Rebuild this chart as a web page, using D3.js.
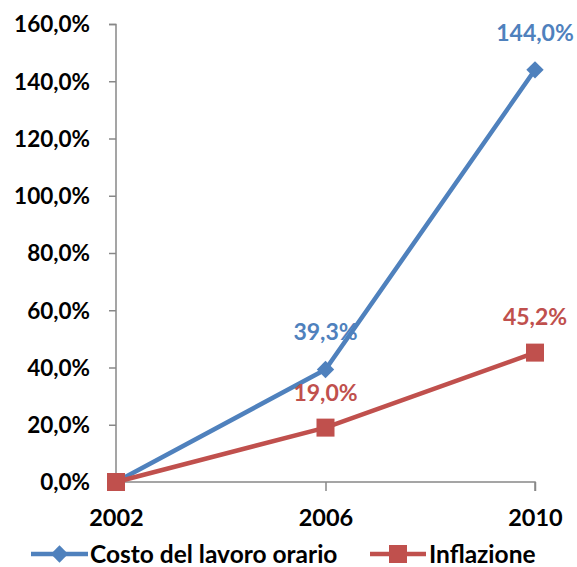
<!DOCTYPE html>
<html><head><meta charset="utf-8">
<script src="https://cdn.jsdelivr.net/npm/d3@7"></script>
<style>body{margin:0;background:#fff}svg{display:block}text{font-family:Lato,"Open Sans",sans-serif;font-weight:bold}</style>
</head><body><svg id="c" width="577" height="567"></svg>
<script>
const categories = ["2002", "2006", "2010"];
const costoLavoro = [0, 39.3, 144.0];
const inflazione = [0, 19.0, 45.2];
const yTicks = [0, 20, 40, 60, 80, 100, 120, 140, 160];
const seriesNames = ["Costo del lavoro orario", "Inflazione"];
const colors = ["#4F81BD", "#C0504D"];

const svg = d3.select("#c");
const x = d3.scalePoint().domain(categories).range([116, 535]);
const y = d3.scaleLinear().domain([0, 160]).range([482, 24]);
const fmt = v => v.toFixed(1).replace(".", ",") + "%";

// y axis
const yAx = svg.append("g").attr("transform", "translate(116,0)")
  .call(d3.axisLeft(y).tickValues(yTicks).tickFormat(fmt).tickSize(7).tickPadding(19));
yAx.select(".domain").attr("stroke", "#888").attr("stroke-width", 1.5).attr("d", "M-7,24.5H0V482");
yAx.selectAll(".tick line").attr("stroke", "#888").attr("stroke-width", 1.5);
yAx.selectAll("text").attr("fill", "#000").style("font-size", "22.5px").attr("dy", "0.35em");

// x axis
const xAx = svg.append("g").attr("transform", "translate(0,482)")
  .call(d3.axisBottom(x).tickSize(9).tickPadding(0));
xAx.select(".domain").attr("stroke", "#888").attr("stroke-width", 1.5).attr("d", "M116,0H535V9");
xAx.selectAll(".tick line").attr("stroke", "#888").attr("stroke-width", 1.5);
xAx.selectAll(".tick").filter((d,i)=>i===0).select("line").remove();
xAx.selectAll("text").attr("fill", "#000").style("font-size", "23.5px").attr("y", 36).attr("dy", "0.35em");

const line = d3.line().x((d,i)=>x(categories[i])).y(d=>y(d));
const data = [costoLavoro, inflazione];

data.forEach((s, k) => {
  svg.append("path").datum(s).attr("d", line).attr("fill", "none")
    .attr("stroke", colors[k]).attr("stroke-width", 4.5).attr("stroke-linejoin", "round");
});
svg.selectAll(".dm").data(costoLavoro).join("path")
  .attr("d", d3.symbol().type(d3.symbolSquare).size(150))
  .attr("transform", (d,i)=>`translate(${x(categories[i])},${y(d)}) rotate(45)`)
  .attr("fill", colors[0]);
svg.selectAll(".sq").data(inflazione).join("rect")
  .attr("x", (d,i)=>x(categories[i]) - 9).attr("y", d=>y(d) - 9)
  .attr("width", 18).attr("height", 18).attr("fill", colors[1]);

// labels
const labels = [
  {s:0, i:1, dy:-37.5}, {s:0, i:2, dy:-37},
  {s:1, i:1, dy:-34.5}, {s:1, i:2, dy:-35.5}
];
labels.forEach(l => {
  const v = data[l.s][l.i];
  svg.append("text").attr("x", x(categories[l.i])).attr("y", y(v) + l.dy).attr("dy", "0.35em")
    .attr("text-anchor", "middle").attr("fill", colors[l.s]).style("font-size", "23px")
    .text(fmt(v));
});

// legend
const lg = [{x0:31, x1:88, tx:90}, {x0:370, x1:426, tx:429}];
lg.forEach((p, k) => {
  const g = svg.append("g");
  const cy = 554;
  g.append("line").attr("x1", p.x0).attr("x2", p.x1).attr("y1", cy).attr("y2", cy)
    .attr("stroke", colors[k]).attr("stroke-width", 4.5);
  const cx = (p.x0 + p.x1) / 2;
  if (k === 0) g.append("path").attr("d", d3.symbol().type(d3.symbolSquare).size(150)())
    .attr("transform", `translate(${cx},${cy}) rotate(45)`).attr("fill", colors[0]);
  else g.append("rect").attr("x", cx - 9).attr("y", cy - 9).attr("width", 18).attr("height", 18).attr("fill", colors[1]);
  g.append("text").attr("x", p.tx).attr("y", cy).attr("dy", "0.35em").style("font-size", "24.5px")
    .attr("fill", "#000").text(seriesNames[k]);
});
</script></body></html>
